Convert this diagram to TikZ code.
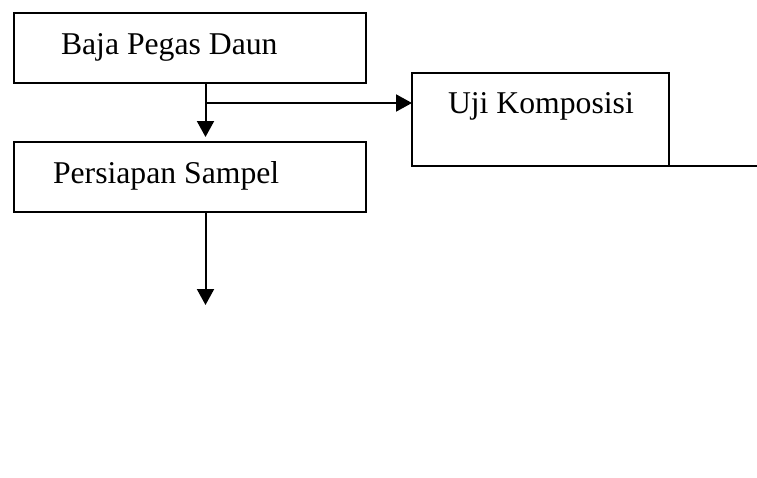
\documentclass[tikz,border=0pt]{standalone}
\usepackage{fontspec}
\setmainfont{Liberation Serif}
\usetikzlibrary{arrows.meta}
\begin{document}
\begin{tikzpicture}[x=1pt,y=-1pt,
  line width=2pt,
  boxnode/.style={draw,rectangle,inner sep=0pt,outer sep=0pt,minimum width=#1},
  lbl/.style={anchor=base west,inner sep=0pt,font=\fontsize{31.7}{36}\selectfont},
  arr/.style={-{Triangle[width=17pt,length=16pt]}}]
\useasboundingbox (0,0) rectangle (757,477);
\node[boxnode=352pt,minimum height=70pt] (b1) at (190,48) {};
\node[boxnode=352pt,minimum height=70pt] (b2) at (190,177) {};
\node[boxnode=257pt,minimum height=93pt] (b3) at (540.5,119.5) {};
\node[lbl] (t1) at (60,54) {Baja Pegas Daun};
\node[lbl] (t2) at (52,183) {Persiapan Sampel};
\node[lbl] (t3) at (447,113.3) {Uji Komposisi};
\coordinate (j) at (205.5,103);
\coordinate (endA) at (205.5,305);
\coordinate (endE) at (757,166);
\draw (j |- b1.south) -- (j);
\draw[arr] (j) -- ([yshift=5pt]j |- b2.north);
\draw[arr] (j) -- (j -| b3.west);
\draw[arr] (j |- b2.south) -- (endA);
\draw (b3.south east) -- (endE);
\end{tikzpicture}
\end{document}
